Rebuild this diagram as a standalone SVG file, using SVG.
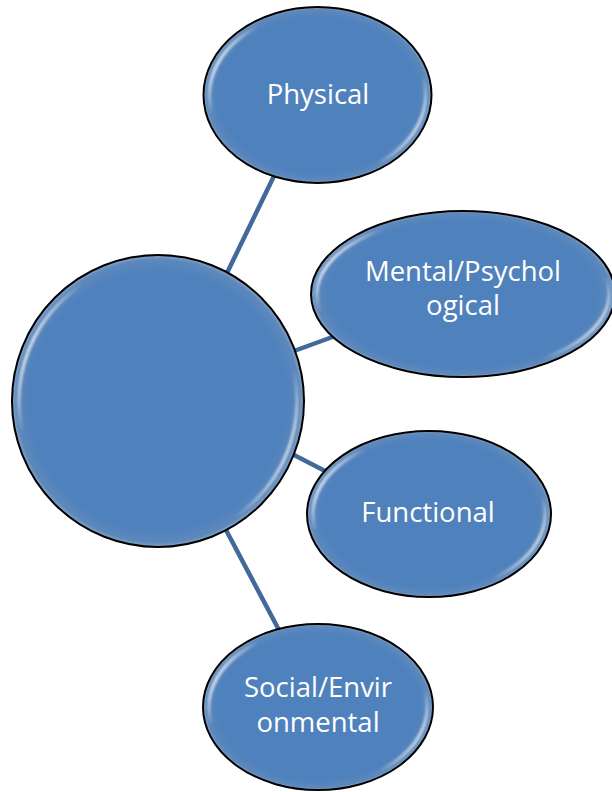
<svg xmlns="http://www.w3.org/2000/svg" width="612" height="792" viewBox="0 0 612 792">
<defs>
<radialGradient id="fillg" cx="0.5" cy="0.5" r="0.5">
<stop offset="0" stop-color="#4f81bd"/>
<stop offset="0.88" stop-color="#4f81bd"/>
<stop offset="0.97" stop-color="#5d88bb"/>
<stop offset="1" stop-color="#8aa6c8"/>
</radialGradient>
<linearGradient id="hl" x1="0" y1="0.3" x2="1" y2="0.7">
<stop offset="0" stop-color="#ffffff" stop-opacity="0.95"/>
<stop offset="0.12" stop-color="#ffffff" stop-opacity="0"/>
<stop offset="0.88" stop-color="#ffffff" stop-opacity="0"/>
<stop offset="1" stop-color="#ffffff" stop-opacity="0.85"/>
</linearGradient>
<filter id="blur" x="-10%" y="-10%" width="120%" height="120%">
<feGaussianBlur stdDeviation="1.2"/>
</filter>
</defs>
<style>
.shape{fill:url(#fillg);stroke:#000;stroke-width:2}
.hl{fill:none;stroke:url(#hl);stroke-width:3.5;filter:url(#blur)}
.lbl{font-family:"Open Sans","Liberation Sans",sans-serif;font-size:27.5px;fill:#fff;text-anchor:middle}
.conn{stroke:#41699c;stroke-width:4.5;fill:none}
</style>
<rect width="612" height="792" fill="#fff"/>
<g id="connectors">
<line class="conn" x1="226" y1="275" x2="274" y2="176"/>
<line class="conn" x1="294" y1="351" x2="338" y2="335"/>
<line class="conn" x1="294" y1="455" x2="327" y2="472"/>
<line class="conn" x1="226" y1="530" x2="279" y2="630"/>
</g>
<g id="center">
<circle class="shape" cx="158" cy="401" r="146"/>
<circle class="hl" cx="158" cy="401" r="139"/>
</g>
<g id="physical">
<ellipse class="shape" cx="317.5" cy="95" rx="114" ry="88"/>
<ellipse class="hl" cx="317.5" cy="95" rx="108" ry="82"/>
<text class="lbl" x="318" y="104">Physical</text>
</g>
<g id="mental">
<ellipse class="shape" cx="463" cy="294" rx="152" ry="83"/>
<ellipse class="hl" cx="463" cy="294" rx="146" ry="77"/>
<text class="lbl" x="463" y="281">Mental/Psychol</text>
<text class="lbl" x="463" y="315">ogical</text>
</g>
<g id="functional">
<ellipse class="shape" cx="429" cy="514" rx="122" ry="83"/>
<ellipse class="hl" cx="429" cy="514" rx="116" ry="77"/>
<text class="lbl" x="428" y="522">Functional</text>
</g>
<g id="social">
<ellipse class="shape" cx="318" cy="707" rx="115" ry="83"/>
<ellipse class="hl" cx="318" cy="707" rx="109" ry="77"/>
<text class="lbl" x="318" y="697">Social/Envir</text>
<text class="lbl" x="318" y="732">onmental</text>
</g>
</svg>
